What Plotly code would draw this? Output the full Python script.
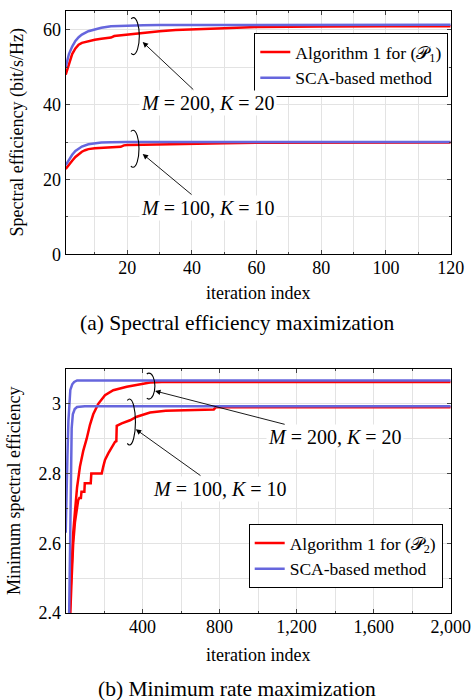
import plotly.graph_objects as go

# ---------------- data: (a) spectral efficiency maximization ----------------
a_red_200_x = [1, 2, 3, 4, 5, 6, 8, 10, 12, 15, 16, 20, 25, 30, 35, 40, 50, 60, 70, 80, 100, 120]
a_red_200_y = [48, 51, 53.5, 55, 56, 56.5, 57, 57.3, 57.6, 57.9, 58.3, 58.7, 59.2, 59.6, 59.9, 60.1, 60.4, 60.7, 60.8, 60.85, 60.9, 60.9]
a_blue_200_x = [1, 2, 3, 4, 5, 6, 8, 10, 12, 15, 20, 25, 30, 120]
a_blue_200_y = [50, 53.5, 55.5, 57, 58, 58.7, 59.6, 60.1, 60.5, 60.9, 61.1, 61.2, 61.25, 61.3]
a_red_100_x = [1, 2, 3, 4, 5, 6, 7, 8, 10, 15, 18, 19, 20, 25, 30, 40, 50, 60, 120]
a_red_100_y = [22.8, 24, 25, 26, 26.8, 27.4, 27.8, 28.1, 28.3, 28.5, 28.7, 29.1, 29.2, 29.3, 29.4, 29.6, 29.7, 29.8, 29.9]
a_blue_100_x = [1, 2, 3, 4, 5, 6, 8, 10, 12, 15, 20, 120]
a_blue_100_y = [23.8, 25.3, 26.6, 27.6, 28.3, 28.8, 29.4, 29.7, 29.85, 29.95, 30, 30]

# ---------------- data: (b) minimum rate maximization ----------------
b_red_200_x = [1, 10, 20, 25, 32, 40, 49, 60, 75, 92, 110, 127, 144, 170, 205, 248, 318, 387, 439, 500, 600, 2000]
b_red_200_y = [1.8, 2.1, 2.35, 2.45, 2.56, 2.63, 2.69, 2.76, 2.82, 2.865, 2.9, 2.94, 2.97, 3.0, 3.025, 3.039, 3.049, 3.057, 3.061, 3.063, 3.063, 3.063]
b_blue_200_x = [1, 3, 6, 10, 15, 20, 25, 35, 45, 60, 2000]
b_blue_200_y = [2.63, 2.7, 2.75, 2.85, 2.95, 3.02, 3.04, 3.056, 3.063, 3.067, 3.067]
b_red_100_x = [1, 15, 25, 32, 40, 49, 58, 66, 72, 80, 83, 98, 100, 131, 134, 188, 196, 205, 222, 240, 257, 264, 266, 292, 335, 370, 439, 520, 612, 770, 780, 2000]
b_red_100_y = [1.8, 2.2, 2.4, 2.5, 2.6, 2.66, 2.7, 2.724, 2.73, 2.73, 2.748, 2.748, 2.772, 2.772, 2.80, 2.80, 2.82, 2.839, 2.858, 2.877, 2.891, 2.893, 2.937, 2.944, 2.953, 2.963, 2.975, 2.98, 2.982, 2.984, 2.99, 2.99]
b_blue_100_x = [1, 10, 19, 24, 28, 32, 38, 48, 60, 100, 2000]
b_blue_100_y = [2.0, 2.2, 2.4, 2.6, 2.8, 2.93, 2.97, 2.985, 2.991, 2.993, 2.993]

legend_a = ["Algorithm 1 for (𝒫<sub>1</sub>)", "SCA-based method"]
legend_b = ["Algorithm 1 for (𝒫<sub>2</sub>)", "SCA-based method"]

RED = "#ff0000"
BLUE = "#6666dd"
FONT = "Liberation Serif"
LW = 2.5

fig = go.Figure()

def add(x, y, color, name, xa, ya, leg, show):
    fig.add_trace(go.Scatter(x=x, y=y, mode="lines", name=name,
                             line=dict(color=color, width=LW),
                             xaxis=xa, yaxis=ya, legend=leg, showlegend=show))

add(a_red_200_x, a_red_200_y, RED, legend_a[0], "x", "y", "legend", True)
add(a_red_100_x, a_red_100_y, RED, legend_a[0], "x", "y", "legend", False)
add(a_blue_200_x, a_blue_200_y, BLUE, legend_a[1], "x", "y", "legend", True)
add(a_blue_100_x, a_blue_100_y, BLUE, legend_a[1], "x", "y", "legend", False)

add(b_red_200_x, b_red_200_y, RED, legend_b[0], "x2", "y2", "legend2", True)
add(b_red_100_x, b_red_100_y, RED, legend_b[0], "x2", "y2", "legend2", False)
add(b_blue_200_x, b_blue_200_y, BLUE, legend_b[1], "x2", "y2", "legend2", True)
add(b_blue_100_x, b_blue_100_y, BLUE, legend_b[1], "x2", "y2", "legend2", False)

W, H = 472, 700
L, R = 65.7, 450.7
def py(p):
    return 1 - p / H

grid = "#e3e3e3"
tickfont = dict(family=FONT, size=18, color="black")
axcommon = dict(showline=True, linecolor="black", linewidth=1, mirror="ticks",
                ticks="inside", ticklen=4, tickcolor="#444", showgrid=True,
                gridcolor=grid, gridwidth=1, zeroline=False, tickfont=tickfont)
minor_common = dict(showgrid=True, gridcolor=grid, ticks="inside", ticklen=2, tickcolor="#444")

legfont = dict(family=FONT, size=17.5, color="black")

fig.update_layout(
    width=W, height=H, margin=dict(l=0, r=0, t=0, b=0, autoexpand=False),
    paper_bgcolor="white", plot_bgcolor="white",
    font=dict(family=FONT, size=17, color="black"),
    xaxis=dict(domain=[L / W, R / W], anchor="y", range=[1, 120], dtick=20, tick0=0,
               ticklabelstandoff=-3,
               minor=dict(dtick=10, **minor_common), **axcommon),
    yaxis=dict(domain=[py(254.3), py(11)], anchor="x", range=[0, 65], dtick=20, tick0=0,
               minor=dict(dtick=10, **minor_common), **axcommon),
    xaxis2=dict(domain=[L / W, R / W], anchor="y2", range=[1, 2000], dtick=400, tick0=0,
                ticklabelstandoff=-3,
                tickformat=",d", minor=dict(dtick=200, **minor_common), **axcommon),
    yaxis2=dict(domain=[py(613), py(369)], anchor="x2", range=[2.4, 3.1], dtick=0.2, tick0=0,
                minor=dict(dtick=0.1, **minor_common), **axcommon),
    legend=dict(x=448.3 / W, xanchor="right", y=py(33), yanchor="top",
                bgcolor="white", bordercolor="black", borderwidth=1,
                font=legfont, itemwidth=30, tracegroupgap=0),
    legend2=dict(x=442.7 / W, xanchor="right", y=py(524), yanchor="top",
                 bgcolor="white", bordercolor="black", borderwidth=1,
                 font=legfont, itemwidth=30, tracegroupgap=0),
)

ann = []
# axis titles and captions
ann.append(dict(text="Spectral efficiency (bit/s/Hz)", x=18 / W, y=py(132.6), xref="paper", yref="paper",
                textangle=-90, showarrow=False, xanchor="center", yanchor="middle", font=dict(size=18)))
ann.append(dict(text="Minimum spectral efficiency", x=14 / W, y=py(491), xref="paper", yref="paper",
                textangle=-90, showarrow=False, xanchor="center", yanchor="middle", font=dict(size=18)))
ann.append(dict(text="iteration index", x=(L + R) / 2 / W, y=py(293), xref="paper", yref="paper",
                showarrow=False, xanchor="center", yanchor="middle", font=dict(size=18)))
ann.append(dict(text="iteration index", x=(L + R) / 2 / W, y=py(655), xref="paper", yref="paper",
                showarrow=False, xanchor="center", yanchor="middle", font=dict(size=18)))
ann.append(dict(text="(a) Spectral efficiency maximization", x=236.5 / W, y=py(323), xref="paper", yref="paper",
                showarrow=False, xanchor="center", yanchor="middle", font=dict(size=21.5)))
ann.append(dict(text="(b) Minimum rate maximization", x=236.7 / W, y=py(689), xref="paper", yref="paper",
                showarrow=False, xanchor="center", yanchor="middle", font=dict(size=21.5)))

# labels with arrows: (tip x, tip y) -> label centred at (ax, ay)
labels = [
    ("x", "y", 24.8, 56.7, 45, 40.3, "<i>M</i> = 200, <i>K</i> = 20"),
    ("x", "y", 24.8, 26.8, 45, 12.3, "<i>M</i> = 100, <i>K</i> = 10"),
    ("x2", "y2", 465, 3.037, 1400, 2.904, "<i>M</i> = 200, <i>K</i> = 20"),
    ("x2", "y2", 365, 2.927, 800, 2.755, "<i>M</i> = 100, <i>K</i> = 10"),
]
for xr, yr, x, y, ax, ay, t in labels:
    ann.append(dict(x=x, y=y, ax=ax, ay=ay, xref=xr, yref=yr, axref=xr, ayref=yr,
                    text=t, showarrow=True, arrowhead=2, arrowsize=1.2, arrowwidth=0.9,
                    arrowcolor="black", startstandoff=2,
                    bgcolor="white", font=dict(size=20), xanchor="center", yanchor="middle"))

fig.update_layout(annotations=ann)

# ellipses (open on the left), pixel-sized around data anchors
def ell_path(rx, ry):
    k = 0.5523
    return (f"M {-0.35*rx},{0.93*ry} Q {-0.2*rx},{ry} 0,{ry} "
            f"C {k*rx},{ry} {rx},{k*ry} {rx},0 "
            f"C {rx},{-k*ry} {k*rx},{-ry} 0,{-ry} "
            f"Q {-0.2*rx},{-ry} {-0.35*rx},{-0.93*ry}")

ellipses = [
    ("x", "y", 21.9, 58.3, 6, 18.5),
    ("x", "y", 21.8, 28.2, 6, 18.5),
    ("x2", "y2", 433, 3.051, 6, 13),
    ("x2", "y2", 332, 2.948, 6, 23),
]
shapes = []
for xr, yr, cx, cy, rx, ry in ellipses:
    shapes.append(dict(type="path", xref=xr, yref=yr, xsizemode="pixel", ysizemode="pixel",
                       xanchor=cx, yanchor=cy, path=ell_path(rx, ry),
                       line=dict(color="black", width=1.1)))
fig.update_layout(shapes=shapes)

fig.write_html("out.html", config={"displayModeBar": False},
               post_script="document.body.style.margin='0px';document.body.style.padding='0px';"
                           "document.body.style.overflow='hidden';")
